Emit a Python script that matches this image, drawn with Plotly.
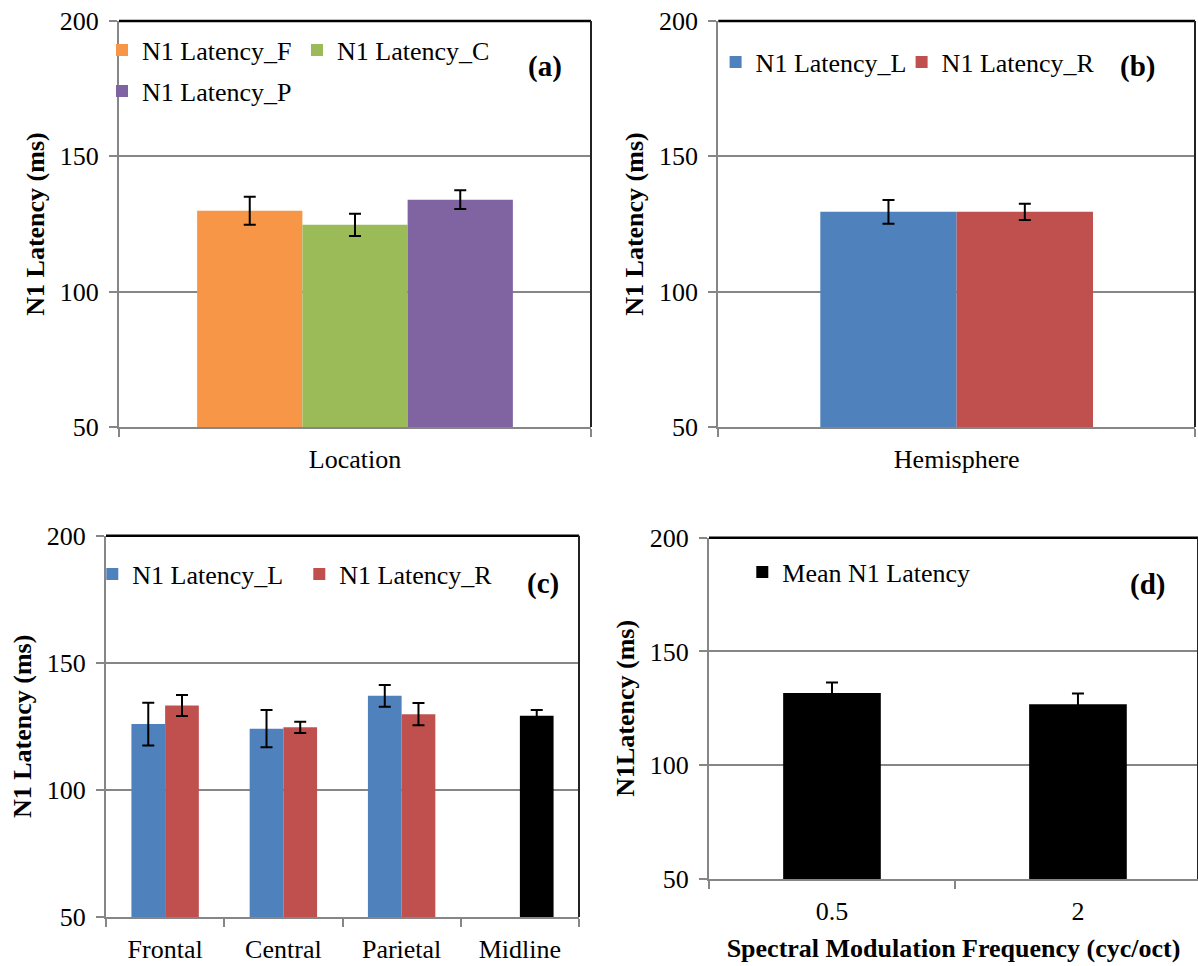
import plotly.graph_objects as go

# ---------------- data ----------------
# Panel (a)
loc_category = ["Location"]
loc_series = ["N1 Latency_F", "N1 Latency_C", "N1 Latency_P"]
loc_values = [129.9, 124.7, 134.0]
loc_errors = [5.2, 4.1, 3.5]

# Panel (b)
hemi_category = ["Hemisphere"]
hemi_series = ["N1 Latency_L", "N1 Latency_R"]
hemi_values = [129.5, 129.5]
hemi_errors = [4.4, 3.0]

# Panel (c)
region_categories = ["Frontal", "Central", "Parietal", "Midline"]
region_left = [125.9, 124.1, 137.0, None]
region_left_err = [8.4, 7.3, 4.3, 0]
region_right = [133.2, 124.6, 129.8, None]
region_right_err = [4.1, 2.2, 4.4, 0]
midline_category = ["Midline"]
midline_value = [129.2]
midline_err = [2.2]

# Panel (d)
smf_categories = ["0.5", "2"]
smf_series = "Mean N1 Latency"
smf_values = [131.8, 126.8]
smf_errors = [4.6, 4.7]

y_ticks = [50, 100, 150, 200]

# ---------------- style ----------------
W, H = 1198, 966
FONT = "Liberation Serif, Times New Roman, serif"
GRAY = "#868686"
ORANGE, GREEN, PURPLE = "#F79646", "#9BBB59", "#8064A2"
BLUE, RED, BLACK = "#4F81BD", "#C0504D", "#000000"


def px_x(v):
    return v / W


def px_y(v):
    return 1 - v / H


fig = go.Figure()

err_style = dict(type="data", color="black", thickness=2, width=6, visible=True)

# Panel (a): three adjacent bars, 0.669 of the category wide
wa = 0.669 / 3
for i, (name, val, err, col) in enumerate(zip(loc_series, loc_values, loc_errors,
                                              [ORANGE, GREEN, PURPLE])):
    fig.add_trace(go.Bar(
        x=loc_category, y=[val], name=name, marker=dict(color=col, line=dict(width=0)),
        width=wa, offset=-1.5 * wa + i * wa,
        error_y=dict(array=[err], **err_style), xaxis="x", yaxis="y",
        legend="legend2" if name == "N1 Latency_P" else "legend",
        legendwidth=150 if i == 0 else 260,
    ))

# Panel (b)
wb = 0.572 / 2
for i, (name, val, err, col) in enumerate(zip(hemi_series, hemi_values, hemi_errors,
                                              [BLUE, RED])):
    fig.add_trace(go.Bar(
        x=hemi_category, y=[val], name=name, marker=dict(color=col, line=dict(width=0)),
        width=wb, offset=-wb + i * wb,
        error_y=dict(array=[err], **err_style), xaxis="x2", yaxis="y2", legend="legend3",
        legendwidth=141 if i == 0 else 260,
    ))

# Panel (c)
wc = 0.285
fig.add_trace(go.Bar(
    x=region_categories, y=region_left, name="N1 Latency_L", width=wc, offset=-wc,
    marker=dict(color=BLUE, line=dict(width=0)), legendwidth=162,
    error_y=dict(array=region_left_err, **err_style), xaxis="x3", yaxis="y3", legend="legend4",
))
fig.add_trace(go.Bar(
    x=region_categories, y=region_right, name="N1 Latency_R", width=wc, offset=0,
    marker=dict(color=RED, line=dict(width=0)), legendwidth=260,
    error_y=dict(array=region_right_err, **err_style), xaxis="x3", yaxis="y3", legend="legend4",
))
fig.add_trace(go.Bar(
    x=midline_category, y=midline_value, name="Midline", width=wc, offset=0,
    marker=dict(color=BLACK, line=dict(width=0)), showlegend=False,
    error_y=dict(array=midline_err, **err_style), xaxis="x3", yaxis="y3",
))

# Panel (d)
wd = 0.397
fig.add_trace(go.Bar(
    x=smf_categories, y=smf_values, name=smf_series, width=wd, offset=-wd / 2,
    marker=dict(color=BLACK, line=dict(width=0)), legendwidth=260,
    error_y=dict(array=smf_errors, **err_style), xaxis="x4", yaxis="y4", legend="legend5",
))

tick_font = dict(family=FONT, size=26, color="black")
title_font = dict(family=FONT, size=26, color="black")


def xaxis(domain, anchor, rng, title=None):
    d = dict(domain=domain, anchor=anchor, type="category", range=rng, showline=True,
             linecolor=GRAY, linewidth=2, ticks="outside", tickson="boundaries", ticklen=8,
             tickcolor=GRAY, tickwidth=2, showgrid=False, zeroline=False, tickfont=tick_font,
             ticklabelstandoff=8, automargin=False, fixedrange=True)
    if title:
        d["title"] = dict(text=title, font=title_font, standoff=14)
    return d


def yaxis(domain, anchor, title):
    return dict(domain=domain, anchor=anchor, range=[50, 200], tickvals=y_ticks,
                showline=True, linecolor=GRAY, linewidth=2, ticks="outside", ticklen=8,
                tickcolor=GRAY, tickwidth=2, showgrid=True, gridcolor=GRAY, gridwidth=1.5,
                zeroline=False, tickfont=tick_font, ticklabelstandoff=5, automargin=False,
                title=dict(text=title, font=title_font, standoff=8), fixedrange=True)


ya = [px_y(427), px_y(21)]
yc = [px_y(917), px_y(535.7)]
yd = [px_y(879), px_y(537.7)]

legend_common = dict(orientation="h", xref="paper", yref="paper", xanchor="left",
                     yanchor="middle", bgcolor="rgba(0,0,0,0)", borderwidth=0,
                     font=dict(family=FONT, size=26, color="black"),
                     entrywidthmode="pixels", itemclick=False, itemdoubleclick=False)

fig.update_layout(
    template="none",
    width=W, height=H, margin=dict(l=0, r=0, t=0, b=0, autoexpand=False),
    paper_bgcolor="white", plot_bgcolor="white",
    barmode="overlay", showlegend=True,
    font=dict(family=FONT, size=26, color="black"),
    xaxis=xaxis([px_x(119), px_x(591)], "y", [-0.5, 0.5]),
    yaxis=yaxis(ya, "x", "<b>N1 Latency (ms)</b>"),
    xaxis2=xaxis([px_x(718.3), px_x(1195)], "y2", [-0.5, 0.5]),
    yaxis2=yaxis(ya, "x2", "<b>N1 Latency (ms)</b>"),
    xaxis3=xaxis([px_x(106), px_x(579)], "y3", [-0.5, 3.5]),
    yaxis3=yaxis(yc, "x3", "<b>N1 Latency (ms)</b>"),
    xaxis4=xaxis([px_x(709), 1.0], "y4", [-0.5, 1.488],
                 title="<b>Spectral Modulation Frequency (cyc/oct)</b>"),
    yaxis4=yaxis(yd, "x4", "<b>N1Latency (ms)</b>"),
    legend=dict(x=px_x(142 - 40), y=px_y(50), **legend_common),
    legend2=dict(x=px_x(142 - 40), y=px_y(91), **legend_common),
    legend3=dict(x=px_x(755.6 - 40), y=px_y(62), **legend_common),
    legend4=dict(x=px_x(132.3 - 40), y=px_y(574), **legend_common),
    legend5=dict(x=px_x(782.3 - 40), y=px_y(572), **legend_common),
)

# plot-area borders (top black, right dark)
for xr, yr in [("x", "y"), ("x2", "y2"), ("x3", "y3"), ("x4", "y4")]:
    fig.add_shape(type="line", xref=f"{xr} domain", yref=f"{yr} domain", x0=0, x1=1, y0=1, y1=1,
                  line=dict(color="black", width=2.5), layer="above")
    fig.add_shape(type="line", xref=f"{xr} domain", yref=f"{yr} domain", x0=1, x1=1, y0=0, y1=1,
                  line=dict(color="#222222", width=2), layer="above")

# panel letters
for txt, x, y in [("(a)", 544.5, 66), ("(b)", 1137.5, 66), ("(c)", 542.5, 583), ("(d)", 1147, 584)]:
    fig.add_annotation(text=f"<b>{txt}</b>", x=px_x(x), y=px_y(y), xref="paper", yref="paper",
                       showarrow=False, xanchor="center", yanchor="middle",
                       font=dict(family=FONT, size=29, color="black"))

fig.write_html("out.html")
